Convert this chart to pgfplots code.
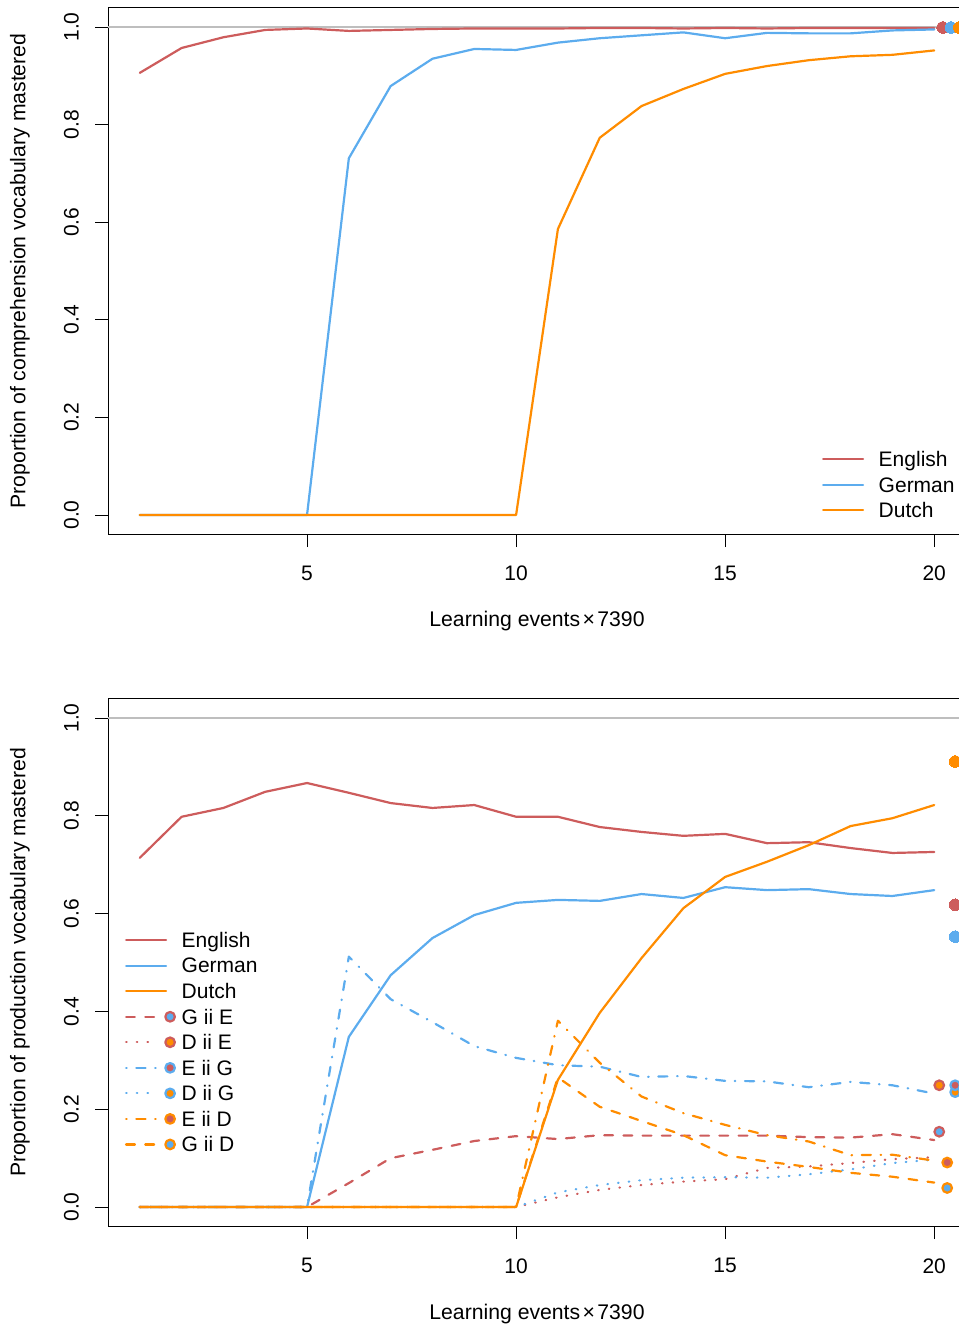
\documentclass[border=0pt]{standalone}
\usepackage{pgfplots}
\pgfplotsset{compat=1.18}
\usepackage{fontspec}
\setmainfont{Liberation Sans}
\definecolor{cEn}{RGB}{205,92,92}
\definecolor{cDe}{RGB}{92,172,238}
\definecolor{cNl}{RGB}{255,140,0}
\definecolor{cGr}{RGB}{190,190,190}
\tikzset{
 dsh/.style={dash pattern=on 4.4pt off 5.2pt},
 dtt/.style={dash pattern=on 0.3pt off 5.05pt},
 dsd/.style={dash pattern=on 0.3pt off 4.8pt on 4.6pt off 4.8pt},
}
\newcommand{\solidleg}[1]{\addlegendimage{legend image code/.code={\draw[#1, line width=1.1pt] (0pt,0pt) -- (20pt,0pt); \path[draw=none, fill=none] (0pt,-3pt) rectangle (25pt,3pt);}}}
\newcommand{\ringleg}[4]{\addlegendimage{legend image code/.code={\draw[#1, line width=1.1pt, line cap=round, #2] (0pt,0pt) -- (15.5pt,0pt); \draw[draw=#3, fill=#4, line width=1.1pt, solid] (22pt,0pt) circle (2.4pt); \path[draw=none, fill=none] (0pt,-3pt) rectangle (25pt,3pt);}}}
\pgfplotsset{
 rplot/.style={
  scale only axis, width=429pt,
  xmin=0.24, xmax=20.76, ymin=-0.04, ymax=1.04,
  axis line style={line width=0.45pt},
  xtick={5,10,15,20}, xticklabels={5,10,15,20},
  ytick={0,0.2,0.4,0.6,0.8,1.0}, yticklabels={0.0,0.2,0.4,0.6,0.8,1.0},
  xtick pos=bottom, ytick pos=left, tick align=outside,
  major tick length=6.3pt, tick style={black, line width=0.45pt},
  tick label style={font=\fontsize{10.5}{12.6}\selectfont},
  x tick label style={anchor=north, inner sep=0pt},
  xticklabel shift=9.4pt,
  y tick label style={rotate=90, anchor=south, inner sep=0pt},
  yticklabel shift=8.1pt,
  every axis x label/.style={at={(axis description cs:0.5,0)}, yshift=-43.5pt, anchor=center, font=\fontsize{10.6}{12.7}\selectfont},
  every axis y label/.style={at={(axis description cs:0,0.5)}, xshift=-44pt, rotate=90, anchor=center, font=\fontsize{10.6}{12.7}\selectfont},
  xlabel={Learning events\kern1.2pt×\kern1.2pt7390},
  legend cell align=left,
  legend style={draw=none, fill=none, inner sep=0pt, outer sep=0pt, row sep=2.45pt, column sep=2.8pt,
    font=\fontsize{10.5}{12.6}\selectfont, nodes={inner sep=0pt}},
  every axis plot/.append style={line width=1.1pt, line join=round, line cap=round},
 },
 mk/.style n args={2}{only marks, mark=*, mark size=2.4pt, mark options={draw=#1, fill=#2, line width=1.1pt, solid}},
 enddot/.style={only marks, mark=*, mark size=2.9pt, color=#1, mark options={solid, line width=0pt}},
}
\begin{document}
\begin{tikzpicture}
% ---------- top panel: comprehension ----------
\begin{axis}[rplot, height=263.5pt, at={(54pt,-267.25pt)}, anchor=south west,
  ylabel={Proportion of comprehension vocabulary mastered},
  legend style={at={(axis description cs:0.8322,0.1624)}, anchor=north west}]
\addplot[cGr, line width=0.6pt, forget plot] coordinates {(0.24,1)(20.76,1)};
\addplot[cEn, forget plot] coordinates {(1,0.906)(2,0.957)(3,0.979)(4,0.994)(5,0.997)(6,0.992)(7,0.994)(8,0.996)(9,0.997)(10,0.997)(11,0.997)(12,0.998)(13,0.998)(14,0.997)(15,0.998)(16,0.997)(17,0.998)(18,0.998)(19,0.998)(20,0.998)};
\addplot[cDe, forget plot] coordinates {(1,0)(2,0)(3,0)(4,0)(5,0)(6,0.731)(7,0.879)(8,0.935)(9,0.955)(10,0.953)(11,0.968)(12,0.977)(13,0.983)(14,0.989)(15,0.977)(16,0.988)(17,0.987)(18,0.987)(19,0.993)(20,0.995)};
\addplot[cNl, forget plot] coordinates {(1,0)(2,0)(3,0)(4,0)(5,0)(6,0)(7,0)(8,0)(9,0)(10,0)(11,0.586)(12,0.773)(13,0.838)(14,0.873)(15,0.904)(16,0.920)(17,0.932)(18,0.940)(19,0.943)(20,0.952)};
\addplot[enddot=cEn, forget plot] coordinates {(20.2,0.999)};
\addplot[enddot=cDe, forget plot] coordinates {(20.4,0.999)};
\addplot[enddot=cNl, forget plot] coordinates {(20.6,0.999)};
\solidleg{cEn}\addlegendentry{\strut English}
\solidleg{cDe}\addlegendentry{\strut German}
\solidleg{cNl}\addlegendentry{\strut Dutch}
\end{axis}
% ---------- bottom panel: production ----------
\begin{axis}[rplot, height=264.1pt, at={(54pt,-613.3pt)}, anchor=south west,
  ylabel={Proportion of production vocabulary mastered},
  legend style={at={(axis description cs:0.0198,0.5619)}, anchor=north west}]
\addplot[cGr, line width=0.6pt, forget plot] coordinates {(0.24,1)(20.76,1)};
% interference curves
\addplot[cEn, dsh, forget plot] coordinates {(1,0)(2,0)(3,0)(4,0)(5,0)(6,0.049)(7,0.100)(8,0.117)(9,0.135)(10,0.145)(11,0.139)(12,0.147)(13,0.146)(14,0.146)(15,0.146)(16,0.146)(17,0.143)(18,0.142)(19,0.149)(20,0.137)};
\addplot[cEn, dtt, forget plot] coordinates {(1,0)(2,0)(3,0)(4,0)(5,0)(6,0)(7,0)(8,0)(9,0)(10,0)(11,0.020)(12,0.035)(13,0.045)(14,0.052)(15,0.057)(16,0.080)(17,0.083)(18,0.090)(19,0.098)(20,0.102)};
\addplot[cDe, dsd, forget plot] coordinates {(1,0)(2,0)(3,0)(4,0)(5,0)(6,0.512)(7,0.425)(8,0.378)(9,0.329)(10,0.305)(11,0.290)(12,0.287)(13,0.266)(14,0.268)(15,0.258)(16,0.257)(17,0.245)(18,0.256)(19,0.249)(20,0.232)};
\addplot[cDe, dtt, forget plot] coordinates {(1,0)(2,0)(3,0)(4,0)(5,0)(6,0)(7,0)(8,0)(9,0)(10,0)(11,0.030)(12,0.045)(13,0.055)(14,0.060)(15,0.061)(16,0.060)(17,0.067)(18,0.077)(19,0.090)(20,0.097)};
\addplot[cNl, dsd, forget plot] coordinates {(1,0)(2,0)(3,0)(4,0)(5,0)(6,0)(7,0)(8,0)(9,0)(10,0)(11,0.381)(12,0.295)(13,0.226)(14,0.192)(15,0.168)(16,0.147)(17,0.134)(18,0.106)(19,0.107)(20,0.095)};
\addplot[cNl, dsh, forget plot] coordinates {(1,0)(2,0)(3,0)(4,0)(5,0)(6,0)(7,0)(8,0)(9,0)(10,0)(11,0.265)(12,0.205)(13,0.176)(14,0.147)(15,0.106)(16,0.093)(17,0.082)(18,0.070)(19,0.062)(20,0.050)};
% main curves
\addplot[cEn, forget plot] coordinates {(1,0.714)(2,0.798)(3,0.816)(4,0.849)(5,0.867)(6,0.847)(7,0.826)(8,0.816)(9,0.822)(10,0.798)(11,0.798)(12,0.777)(13,0.767)(14,0.759)(15,0.763)(16,0.744)(17,0.746)(18,0.734)(19,0.724)(20,0.726)};
\addplot[cDe, forget plot] coordinates {(1,0)(2,0)(3,0)(4,0)(5,0)(6,0.348)(7,0.474)(8,0.550)(9,0.597)(10,0.622)(11,0.628)(12,0.626)(13,0.640)(14,0.632)(15,0.654)(16,0.648)(17,0.650)(18,0.640)(19,0.636)(20,0.648)};
\addplot[cNl, forget plot] coordinates {(1,0)(2,0)(3,0)(4,0)(5,0)(6,0)(7,0)(8,0)(9,0)(10,0)(11,0.260)(12,0.397)(13,0.509)(14,0.611)(15,0.675)(16,0.706)(17,0.740)(18,0.779)(19,0.795)(20,0.822)};
% end points
\addplot[enddot=cNl, forget plot] coordinates {(20.5,0.911)};
\addplot[enddot=cEn, forget plot] coordinates {(20.5,0.618)};
\addplot[enddot=cDe, forget plot] coordinates {(20.5,0.553)};
\addplot[mk={cEn}{cNl}, forget plot] coordinates {(20.12,0.249)};
\addplot[mk={cEn}{cDe}, forget plot] coordinates {(20.12,0.154)};
\addplot[mk={cDe}{cNl}, forget plot] coordinates {(20.5,0.235)};
\addplot[mk={cDe}{cEn}, forget plot] coordinates {(20.5,0.249)};
\addplot[mk={cNl}{cEn}, forget plot] coordinates {(20.31,0.091)};
\addplot[mk={cNl}{cDe}, forget plot] coordinates {(20.31,0.039)};
\solidleg{cEn}\addlegendentry{\strut English}
\solidleg{cDe}\addlegendentry{\strut German}
\solidleg{cNl}\addlegendentry{\strut Dutch}
\ringleg{cEn}{dsh}{cEn}{cDe}\addlegendentry{\strut G ii E}
\ringleg{cEn}{dtt}{cEn}{cNl}\addlegendentry{\strut D ii E}
\ringleg{cDe}{dsd}{cDe}{cEn}\addlegendentry{\strut E ii G}
\ringleg{cDe}{dtt}{cDe}{cNl}\addlegendentry{\strut D ii G}
\ringleg{cNl}{dsd}{cNl}{cEn}\addlegendentry{\strut E ii D}
\ringleg{cNl}{dsh}{cNl}{cDe}\addlegendentry{\strut G ii D}
\end{axis}
\pgfresetboundingbox
\useasboundingbox (0pt,0pt) rectangle (479pt,-662.5pt);
\end{tikzpicture}
\end{document}
